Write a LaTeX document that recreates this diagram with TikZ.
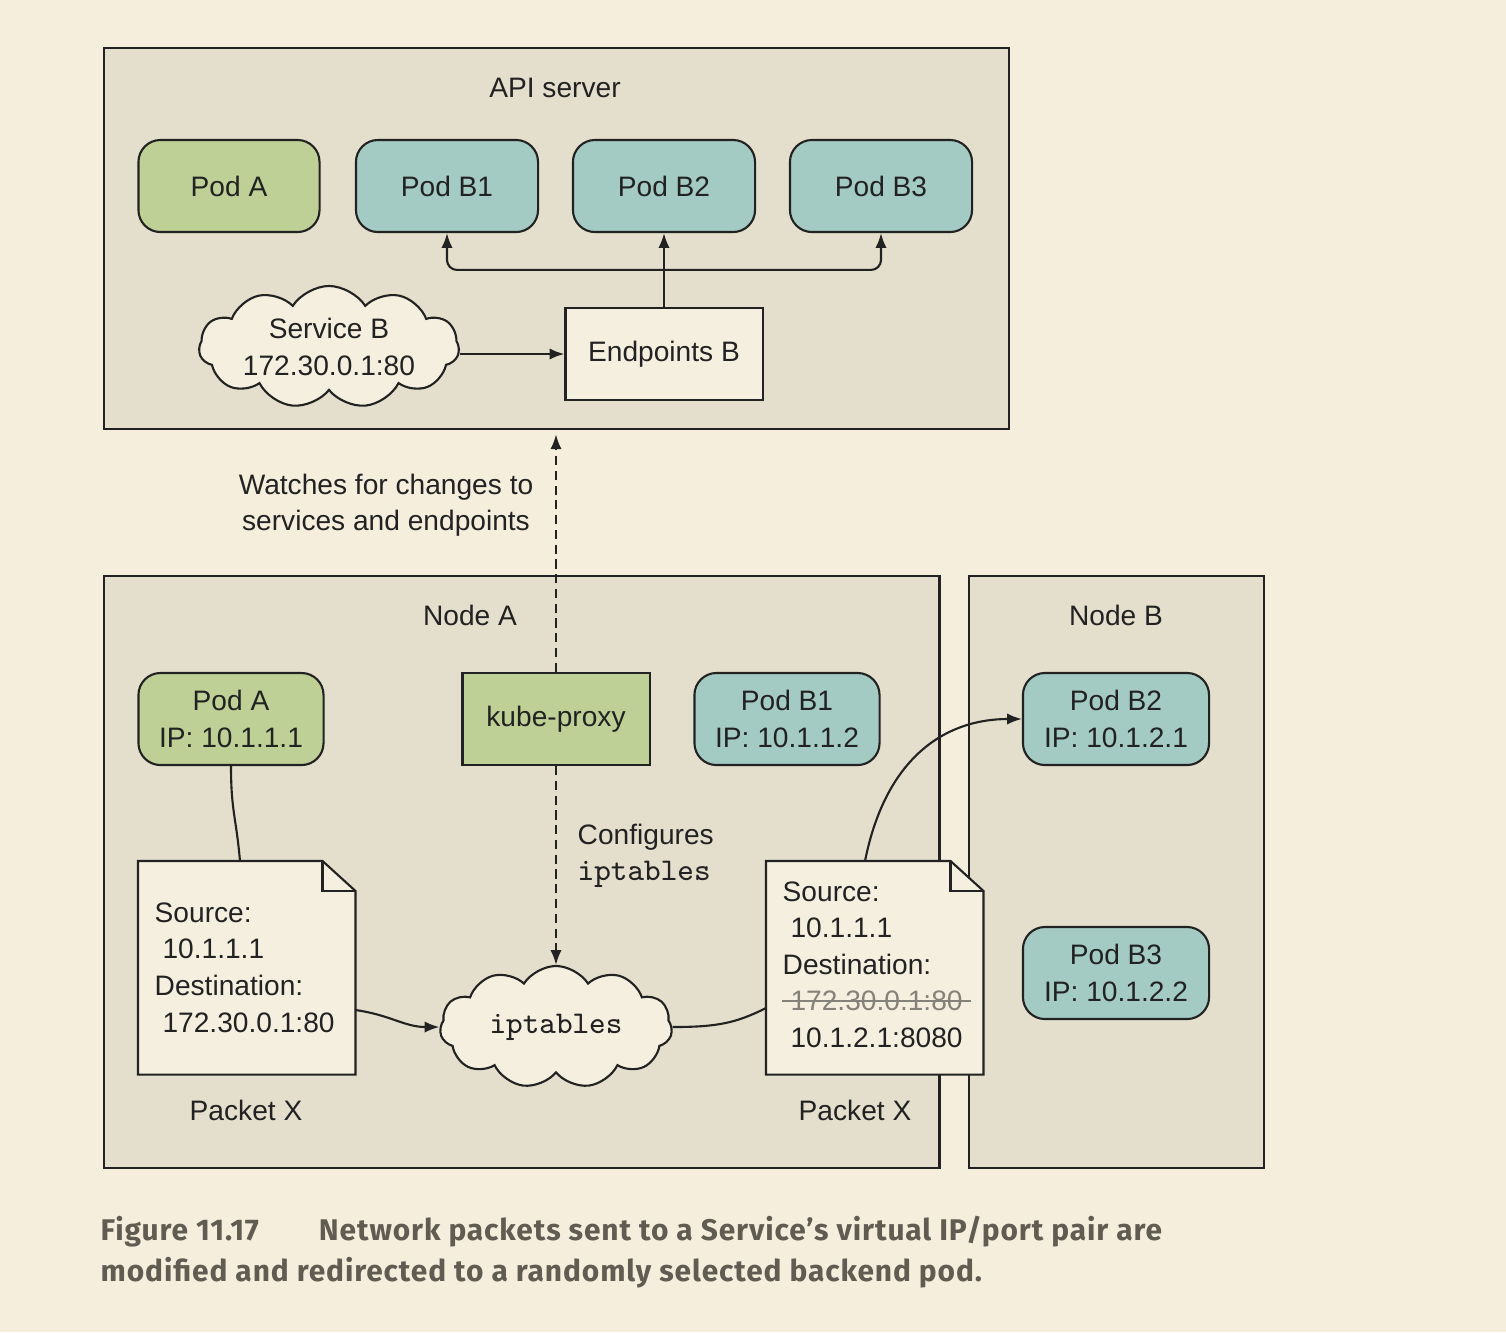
\documentclass[tikz,border=0pt]{standalone}
\usepackage{fontspec}
\setmainfont{Liberation Sans}
\newfontfamily\capfont{Fira Sans}[LetterSpace=3]
\usetikzlibrary{calc,shapes.symbols,arrows.meta}
\definecolor{pagebg}{HTML}{F5EEDD}
\definecolor{panelfill}{HTML}{E4DFCC}
\definecolor{podgreen}{HTML}{BFD096}
\definecolor{podteal}{HTML}{A3CBC3}
\definecolor{paperfill}{HTML}{F5EFDF}
\definecolor{inkdark}{HTML}{222222}
\definecolor{capgray}{HTML}{605C52}
\definecolor{strikegray}{HTML}{85827A}
\tikzset{
	panelbox/.style={draw=inkdark, fill=panelfill, line width=0.6pt, inner sep=0pt},
	podbox/.style={draw=inkdark, line width=0.6pt, rounded corners=0.22cm, minimum height=0.92cm, align=center},
	plainbox/.style={draw=inkdark, line width=0.6pt, minimum height=0.92cm, align=center},
	cloudy/.style={cloud, cloud puffs=11, cloud puff arc=115, draw=inkdark, fill=paperfill, line width=0.6pt, inner sep=0pt},
	paperline/.style={draw=inkdark, line width=0.6pt},
	arr/.style={draw=inkdark, line width=0.6pt, -{Latex[length=4.2pt,width=3.2pt]}},
	wire/.style={draw=inkdark, line width=0.6pt},
	dashy/.style={dash pattern=on 2.6pt off 1.6pt},
	captext/.style={anchor=base west, inner sep=0pt, font=\capfont\fontsize{8.5}{10}\selectfont\bfseries, text=capgray}
}
\newcommand\ipt{{\fontsize{9}{10.4}\selectfont\ttfamily iptables}}
% folded paper outline round a named (empty) node
\newcommand\foldpaper[1]{%
	\draw[paperline, fill=paperfill] (#1.south west) -- (#1.north west) -- ($(#1.north east)+(-33,0)$) -- ($(#1.north east)+(0,30)$) -- (#1.south east) -- cycle;
	\draw[paperline] ($(#1.north east)+(-33,0)$) -- ($(#1.north east)+(-33,30)$) -- ($(#1.north east)+(0,30)$);}

\begin{document}
\begin{tikzpicture}[x=0.01cm, y=-0.01cm, every node/.style={font=\fontsize{8}{10.4}\selectfont, text=inkdark}]
		%%%%% START %%%%%
		\fill[pagebg] (0,0) rectangle (1506,1332);
		\useasboundingbox (0,0) rectangle (1506,1332);
		
		% API server
		\node[panelbox, anchor=north west, minimum width=9.04cm, minimum height=3.81cm] (api) at (103,47) {};
		\node (apiT) at (555,88) {API server};
		
		\node[podbox, fill=podgreen, minimum width=1.81cm] (tA) at (229,186) {Pod A};
		\node[podbox, fill=podteal, minimum width=1.82cm] (tB1) at (447,186) {Pod B1};
		\node[podbox, fill=podteal, minimum width=1.82cm] (tB2) at (664,186) {Pod B2};
		\node[podbox, fill=podteal, minimum width=1.82cm] (tB3) at (881,186) {Pod B3};
		
		\node[cloudy, minimum width=2.6cm, minimum height=1.22cm] (svc) at (329,347) {};
		\node[align=center] (svcT) at (329,347) {Service B\\172.30.0.1:80};
		\node[plainbox, fill=paperfill, minimum width=1.97cm] (ep) at (664,354) {Endpoints B};
		
		\coordinate (bus) at ($(ep.north)+(0,-37)$);
		\draw[arr] (ep.north) -- (tB2.south);
		\draw[arr, rounded corners=0.1cm] (bus) -| (tB1.south);
		\draw[arr, rounded corners=0.1cm] (bus) -| (tB3.south);
		\draw[arr] (ep.west -| svc.east) -- (ep.west);
		
		% Node A / Node B
		\node[panelbox, anchor=north west, minimum width=8.35cm, minimum height=5.92cm] (nA) at (103,575) {};
		\node (nAT) at (470,615) {Node A};
		\node[panelbox, anchor=north west, minimum width=2.95cm, minimum height=5.92cm] (nB) at (968,575) {};
		\node (nBT) at (1116,615) {Node B};
		
		\node[podbox, fill=podgreen, minimum width=1.85cm] (pA) at (231,719) {Pod A\\IP: 10.1.1.1};
		\node[plainbox, fill=podgreen, minimum width=1.87cm] (kp) at (556,719) {kube-proxy};
		\node[podbox, fill=podteal, minimum width=1.85cm] (pB1) at (787,719) {Pod B1\\IP: 10.1.1.2};
		\node[podbox, fill=podteal, minimum width=1.86cm] (pB2) at (1116,719) {Pod B2\\IP: 10.1.2.1};
		\node[podbox, fill=podteal, minimum width=1.86cm] (pB3) at (1116,973) {Pod B3\\IP: 10.1.2.2};
		
		\draw[arr, dashy, shorten >=0.04cm] (kp.north) -- (kp.north |- api.south);
		\node[align=center] (watchT) at (386,505) {Watches for changes to\\services and endpoints};
		
		\node[cloudy, minimum width=2.32cm, minimum height=1.22cm] (ipc) at (556,1027) {};
		\node (ipcT) at (556,1027) {\ipt};
		\draw[arr, dashy] (kp.south) -- (ipc.north);
		\node[align=left, anchor=west, inner sep=0pt] (confT) at (577,856) {Configures\\\ipt};
		
		% packets
		\node[anchor=north west, minimum width=2.16cm, minimum height=2.12cm, inner sep=0pt] (pkl) at (138,861) {};
		\foldpaper{pkl}
		\node[anchor=north west, align=left, inner sep=0pt] (pklT) at (154,902) {Source:\\\ 10.1.1.1\\Destination:\\\ 172.30.0.1:80};
		\node (pklX) at (246,1110) {Packet X};
		
		\node[anchor=north west, minimum width=2.16cm, minimum height=2.12cm, inner sep=0pt] (pkr) at (766,861) {};
		\foldpaper{pkr}
		\node[anchor=north west, align=left, inner sep=0pt] (pkrT) at (782,881) {Source:\\\ 10.1.1.1\\Destination:\\\strut\\\ 10.1.2.1:8080};
		\node[anchor=west, inner sep=0pt, text=strikegray] (oldD) at (782,1001) {\ 172.30.0.1:80};
		\draw[strikegray, line width=0.6pt] (oldD.west) -- ($(oldD.east)+(8,0)$);
		\node (pkrX) at (855,1110) {Packet X};
		
		\draw[wire] (pA.south) .. controls +(0,45) and +(-4,-45) .. ($(pkl.north west)+(102,0)$);
		\draw[arr] ($(pkl.north east)+(0,149)$) .. controls +(35,5) and +(-35,0) .. (ipc.west);
		\draw[wire] (ipc.east) .. controls +(45,0) and +(-30,15) .. ($(pkr.north west)+(0,147)$);
		\draw[arr] ($(pkr.north west)+(99,0)$) .. controls +(20,-100) and +(-80,0) .. (pB2.west);
		
		% caption
		\node[captext] (capA) at (100,1240) {Figure 11.17\hspace{0.52cm} Network packets sent to a Service’s virtual IP/port pair are};
		\node[captext] (capB) at (100,1281) {modified and redirected to a randomly selected backend pod.};
		%%%%% END %%%%%
	\end{tikzpicture}
\end{document}
